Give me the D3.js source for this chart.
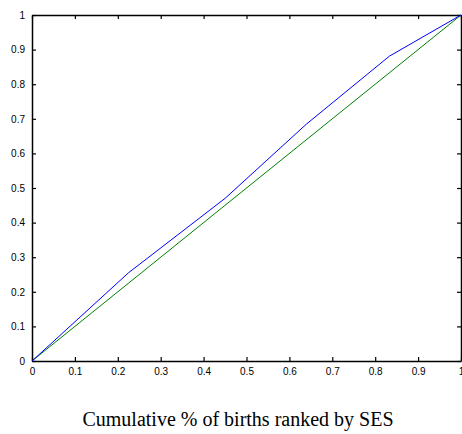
<!DOCTYPE html>
<html><head><meta charset="utf-8">
<script src="https://cdn.jsdelivr.net/npm/d3@7"></script>
<style>body{margin:0;background:#fff}</style>
</head><body>
<svg id="c" width="462" height="434"></svg>
<script>
const xTicks = [0,0.1,0.2,0.3,0.4,0.5,0.6,0.7,0.8,0.9,1];
const yTicks = [0,0.1,0.2,0.3,0.4,0.5,0.6,0.7,0.8,0.9,1];
const blueX = [0,0.225,0.45,0.64,0.833,1];
const blueY = [0,0.255,0.47,0.685,0.881,1];
const greenX = [0,1];
const greenY = [0,1];
const xLabel = "Cumulative % of births ranked by SES";

const svg = d3.select("#c");
const L=32, R=461, T=15, B=361;
const x = d3.scaleLinear().domain([0,1]).range([L,R]);
const y = d3.scaleLinear().domain([0,1]).range([B,T]);
const tickLen = 4;
const fmt = d => d===0?"0":(d===1?"1":d3.format(".1f")(d).replace(/^0/,"0"));

const ax = svg.append("g").attr("font-family","Arial, Liberation Sans, sans-serif").attr("font-size",11);
// bottom
ax.append("g").attr("transform",`translate(0,${B})`)
  .call(d3.axisBottom(x).tickValues(xTicks).tickSizeInner(-tickLen).tickSizeOuter(0).tickPadding(7).tickFormat(fmt));
// top
ax.append("g").attr("transform",`translate(0,${T})`)
  .call(d3.axisTop(x).tickValues(xTicks).tickSizeInner(-tickLen).tickSizeOuter(0).tickFormat(""));
// left
ax.append("g").attr("transform",`translate(${L},0)`)
  .call(d3.axisLeft(y).tickValues(yTicks).tickSizeInner(-tickLen).tickSizeOuter(0).tickPadding(7).tickFormat(fmt));
// right
ax.append("g").attr("transform",`translate(${R},0)`)
  .call(d3.axisRight(y).tickValues(yTicks).tickSizeInner(-tickLen).tickSizeOuter(0).tickFormat(""));
ax.selectAll(".domain").attr("stroke","#000").attr("stroke-width",1.5);
ax.selectAll(".tick line").attr("stroke","#000").attr("stroke-width",1.2);
ax.selectAll(".tick text").attr("fill","#000");

const line = d3.line().x(d=>x(d[0])).y(d=>y(d[1]));
svg.append("path").datum(greenX.map((v,i)=>[v,greenY[i]]))
  .attr("d",line).attr("fill","none").attr("stroke","#008000").attr("stroke-width",1);
svg.append("path").datum(blueX.map((v,i)=>[v,blueY[i]]))
  .attr("d",line).attr("fill","none").attr("stroke","#0000ff").attr("stroke-width",1);

svg.append("text").attr("x",238).attr("y",426).attr("text-anchor","middle")
  .attr("font-family","Liberation Serif, Times New Roman, serif").attr("font-size",20)
  .attr("fill","#000").text(xLabel);
</script>
</body></html>
